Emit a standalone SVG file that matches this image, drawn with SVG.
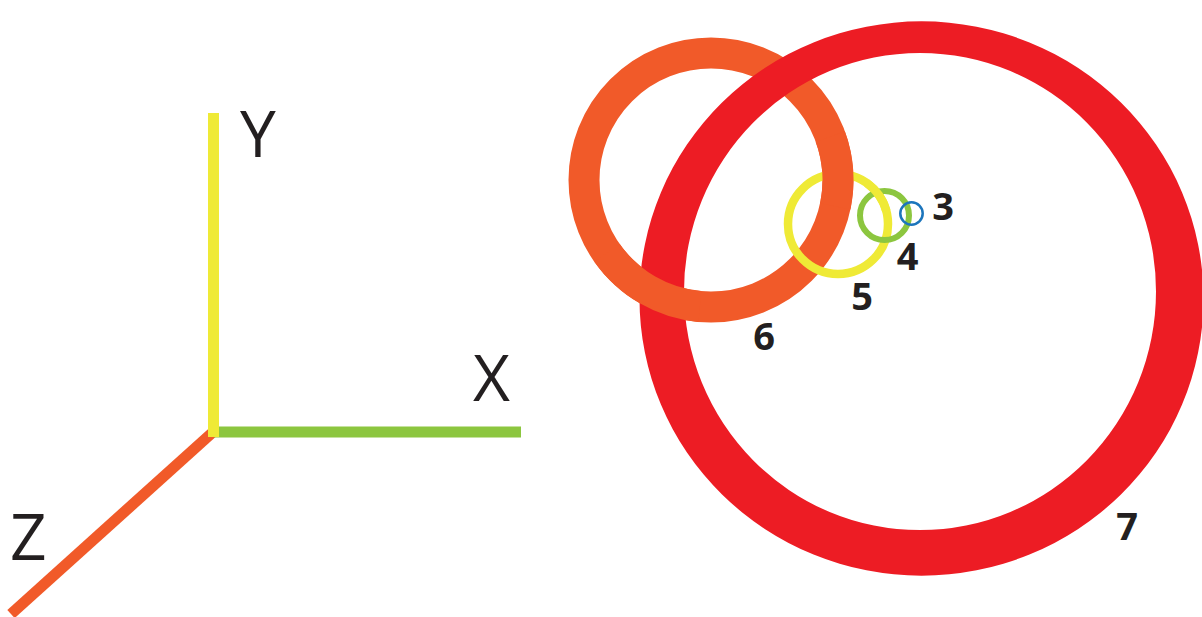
<svg xmlns="http://www.w3.org/2000/svg" width="1202" height="617" viewBox="0 0 1202 617">
  <style>
    .axis { fill: none; stroke-width: 11; stroke-linecap: butt; }
    .axlabel { font-family: "Open Sans", "Liberation Sans", sans-serif; font-size: 64px; fill: #231F20; }
    .num { font-family: "Open Sans", "Liberation Sans", sans-serif; font-size: 38px; font-weight: bold; fill: #231F20; text-anchor: middle; }
    .ring { fill: none; }
  </style>
  <rect width="1202" height="617" fill="#FFFFFF"/>

  <g id="axes">
    <line id="axis-z" class="axis" x1="213" y1="432" x2="11" y2="614" stroke="#F15A29"/>
    <line id="axis-x" class="axis" x1="214" y1="432" x2="521" y2="432" stroke="#8CC63F"/>
    <line id="axis-y" class="axis" x1="213.5" y1="113" x2="213.5" y2="437" stroke="#EFEA36"/>
    <text class="axlabel" x="240" y="157">Y</text>
    <text class="axlabel" x="473" y="401">X</text>
    <text class="axlabel" x="10" y="560">Z</text>
  </g>

  <g id="connectors"></g>

  <g id="ring6-base">
    <circle class="ring" cx="711" cy="180" r="127" stroke="#F15A29" stroke-width="31"/>
  </g>
  <g id="ring7">
    <path fill="#ED1C24" fill-rule="evenodd" d="M 639.5 298.5 A 282 277 0 1 0 1203.5 298.5 A 282 277 0 1 0 639.5 298.5 Z M 684 291.5 A 236 238.5 0 1 0 1156 291.5 A 236 238.5 0 1 0 684 291.5 Z"/>
    <text class="num" x="1127" y="540">7</text>
  </g>
  <g id="ring6">
    <path class="ring" d="M 699.9 306.5 A 127 127 0 0 1 607 252.8" stroke="#F15A29" stroke-width="31"/>
    <text class="num" x="764" y="350">6</text>
  </g>
  <g id="ring5">
    <circle class="ring" cx="838" cy="224" r="50" stroke="#EFEA36" stroke-width="8.5"/>
    <path class="ring" d="M 830.3 136.6 A 127 127 0 0 1 835.2 206.4" stroke="#F15A29" stroke-width="31"/>
    <text class="num" x="862" y="310">5</text>
  </g>
  <g id="ring4">
    <circle class="ring" cx="884.5" cy="215.5" r="24.5" stroke="#8CC63F" stroke-width="6"/>
    <path class="ring" d="M 866.7 183 A 50 50 0 0 1 886.3 211.1" stroke="#EFEA36" stroke-width="8.5"/>
    <text class="num" x="907.5" y="270">4</text>
  </g>
  <g id="ring3">
    <circle class="ring" cx="911.5" cy="213.5" r="11.2" stroke="#1C75BC" stroke-width="2.5"/>
    <text class="num" x="943" y="220">3</text>
  </g>
</svg>
